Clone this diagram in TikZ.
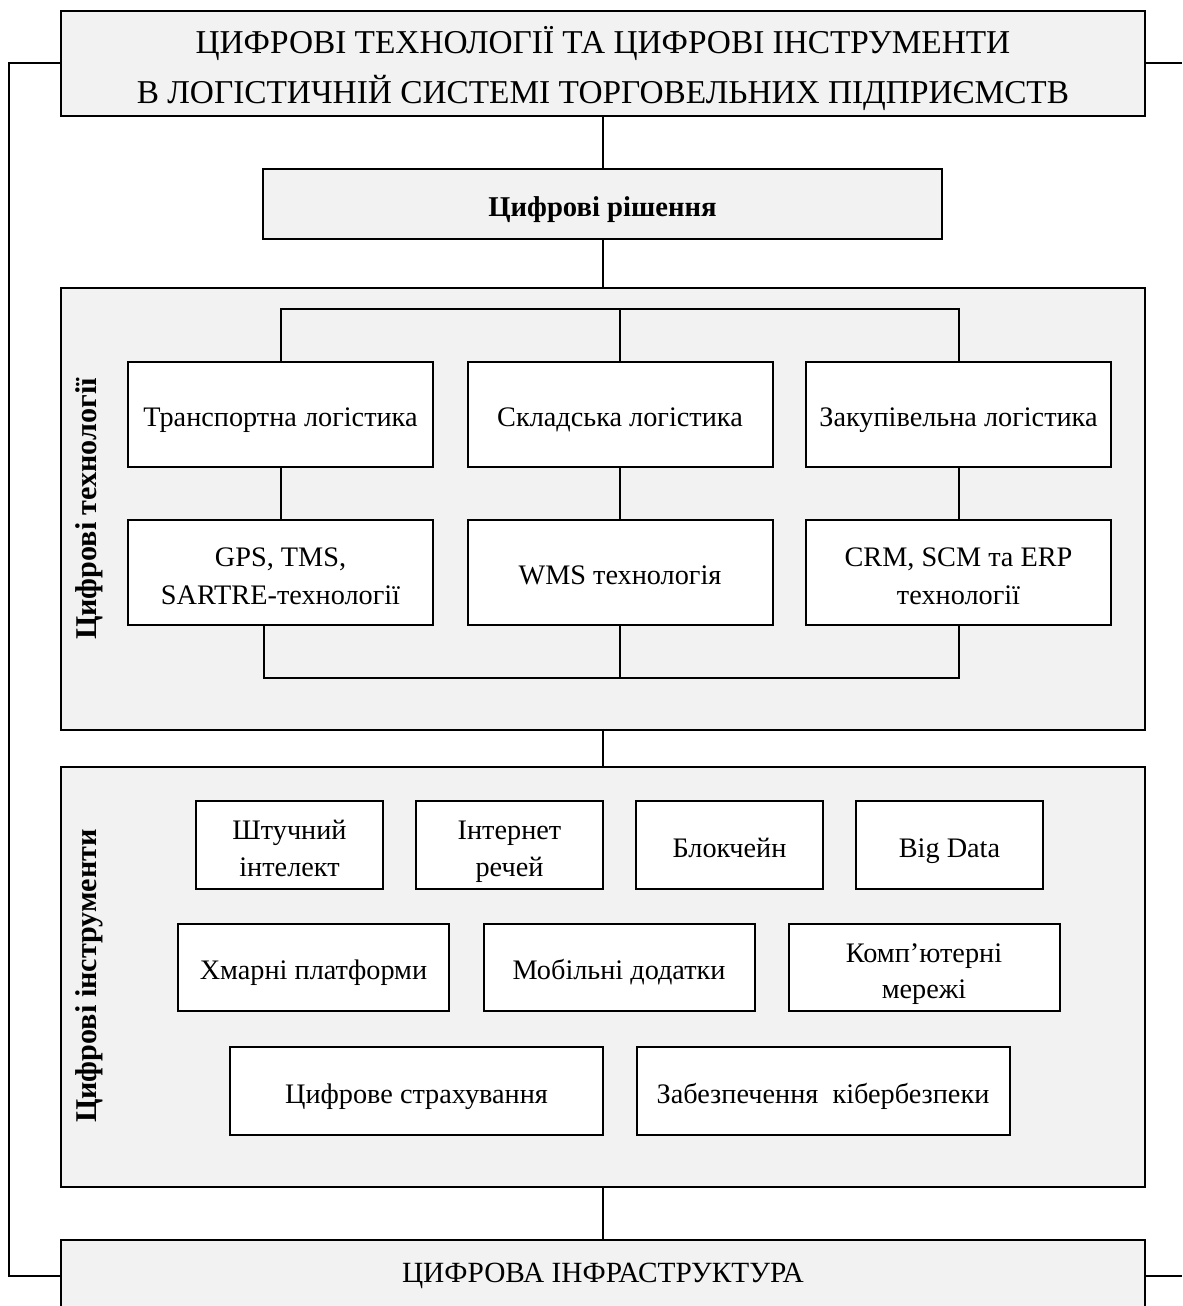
\documentclass[tikz,border=0pt]{standalone}
\usepackage{fontspec}
\setmainfont{Liberation Serif}
\definecolor{panelgray}{HTML}{F2F2F2}
% single-line strut: box centre 0.43em above the baseline
\newcommand\onestrut{\rule[-0.25em]{0pt}{1.36em}}
\newcommand\capstrut{\rule[-0.25em]{0pt}{0.91em}}
% two-line block, first row raised so the text sits slightly low like the original
\newcommand\twol[2]{\begin{tabular}{@{}c@{}}\rule{0pt}{1.3em}#1\\#2\end{tabular}}
\newcommand\twotitle[2]{\begin{tabular}[t]{@{}c@{}}#1\\#2\end{tabular}}
\begin{document}
\begin{tikzpicture}[x=0.75pt,y=-0.75pt,
  line width=1.5pt,
  centred/.style={execute at begin node=\onestrut},
  panel/.style={draw, fill=panelgray, inner sep=0pt, minimum width=813pt},
  wbox/.style={draw, fill=white, inner sep=0pt, font=\fontsize{21.2}{27.5}\selectfont, centred},
  sidelabel/.style={rotate=90, font=\bfseries\fontsize{22.6}{24}\selectfont}
]
\useasboundingbox (0,0) rectangle (1182,1306);

% main boxes
\node[panel, minimum height=78.75pt, text height=32pt, text depth=46.75pt, font=\fontsize{25}{37.5}\selectfont] (title) at (603,63.5)
  {\twotitle{ЦИФРОВІ ТЕХНОЛОГІЇ ТА ЦИФРОВІ ІНСТРУМЕНТИ}{В ЛОГІСТИЧНІЙ СИСТЕМІ ТОРГОВЕЛЬНИХ ПІДПРИЄМСТВ}};
\node[draw, fill=panelgray, inner sep=0pt, minimum width=509.25pt, minimum height=52.5pt, centred, font=\bfseries\fontsize{21.5}{24}\selectfont] (sol) at (602.5,204) {Цифрові рішення};
\node[panel, minimum height=331.5pt] (tech) at (603,509) {};
\node[panel, minimum height=315pt] (instr) at (603,977) {};
\node[panel, minimum height=54pt, execute at begin node=\capstrut, font=\fontsize{22}{24}\selectfont] (infra) at (603,1276) {ЦИФРОВА ІНФРАСТРУКТУРА};

% side labels
\node[sidelabel] (techlbl) at (89,509) {Цифрові технології};
\node[sidelabel] (instrlbl) at (89,976) {Цифрові інструменти};

% technology boxes
\begin{scope}[every node/.append style={wbox, minimum width=228.75pt, minimum height=78.75pt, font=\fontsize{21.2}{28.5}\selectfont}]
\node (t1) at (280.5,414.5) {Транспортна логістика};
\node (t2) at (620,414.5) {Складська логістика};
\node (t3) at (958.5,414.5) {Закупівельна логістика};
\node (g1) at (280.5,572.5) {\twol{GPS, TMS,}{SARTRE-технології}};
\node (g2) at (620,572.5) {WMS технологія};
\node (g3) at (958.5,572.5) {\twol{CRM, SCM та ERP}{технології}};
\end{scope}

% instrument boxes
\begin{scope}[every node/.append style={wbox, minimum width=140.25pt, minimum height=66pt}]
\node (i1) at (289.5,845) {\twol{Штучний}{інтелект}};
\node (i2) at (509.5,845) {\twol{Інтернет}{речей}};
\node (i3) at (729.5,845) {Блокчейн};
\node (i4) at (949.5,845) {Big Data};
\end{scope}
\begin{scope}[every node/.append style={wbox, minimum width=203.25pt, minimum height=65.25pt}]
\node (j1) at (313.5,967.5) {Хмарні платформи};
\node (j2) at (619,967.5) {Мобільні додатки};
\node (j3) at (924,967.5) {\twol{Комп’ютерні}{мережі}};
\end{scope}
\begin{scope}[every node/.append style={wbox, minimum width=279.75pt, minimum height=66pt}]
\node (k1) at (416.5,1091) {Цифрове страхування};
\node (k2) at (823,1091) {Забезпечення~ кібербезпеки};
\end{scope}

% vertical spine
\draw (sol.north) -- (sol.north |- title.south);
\draw (sol.south) -- (sol.south |- tech.north);
\draw (sol.south |- tech.south) -- (sol.south |- instr.north);
\draw (sol.south |- instr.south) -- (sol.south |- infra.north);

% outer bracket
\coordinate (rt) at (1182,63.5);
\coordinate (rb) at (1182,1276);
\draw (title.west) -- ++(-51,0) |- (infra.west);
\draw (title.east) -- (rt);
\draw (infra.east) -- (rb);

% technology tree
\draw (t1.north) -- ++(0,-52) -| (t3.north);
\draw (t2.north) -- ++(0,-52);
\draw (t1.south) -- (g1.north);
\draw (t2.south) -- (g2.north);
\draw (t3.south) -- (g3.north);
\coordinate (bl) at (264,678);
\draw (bl |- g1.south) -- (bl) -| (g3.south);
\draw (g2.south) -- (g2.south |- bl);
\end{tikzpicture}
\end{document}
